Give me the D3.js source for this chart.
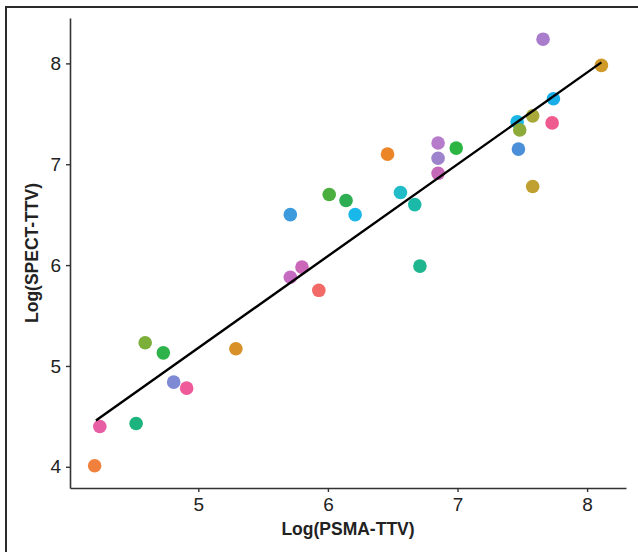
<!DOCTYPE html>
<html>
<head>
<meta charset="utf-8">
<script src="https://cdn.jsdelivr.net/npm/d3@7"></script>
<style>
  html, body { margin: 0; padding: 0; background: #fff; }
  svg { display: block; font-family: "Liberation Sans", Arial, sans-serif; }
</style>
</head>
<body>
<div id="chart"></div>
<script>
var chart_width = 638,
    chart_height = 552;

// Data
var psma = [4.20, 4.24, 4.52, 4.59, 4.73, 4.81, 4.91, 5.29, 5.71, 5.80, 5.71,
            5.93, 6.01, 6.14, 6.21, 6.46, 6.56, 6.67, 6.71, 6.85, 6.85, 6.85,
            6.99, 7.46, 7.48, 7.47, 7.58, 7.58, 7.66, 7.74, 7.73, 8.11];
var spect = [4.01, 4.40, 4.43, 5.23, 5.13, 4.84, 4.78, 5.17, 5.88, 5.98, 6.50,
             5.75, 6.70, 6.64, 6.50, 7.10, 6.72, 6.60, 5.99, 7.21, 7.06, 6.91,
             7.16, 7.42, 7.34, 7.15, 7.48, 6.78, 8.24, 7.65, 7.41, 7.98];
var pointColors = ['#F0803C', '#E85EA4', '#1DB37F', '#7CAE3A', '#2DB34A', '#7E8AD4',
                   '#EE5A9A', '#D89028', '#C66BC2', '#CC66B8', '#3C9BDD', '#F26A68',
                   '#4AAF3E', '#2EAD52', '#1AB8EA', '#EC8428', '#22BCC8', '#1BBAA8',
                   '#1FB58E', '#B67BCB', '#9C83CB', '#C468B7', '#2DB544', '#1BB5E6',
                   '#8CAB3A', '#4A8FD8', '#A9A93A', '#BFA030', '#A97DCB', '#1AAEE8',
                   '#EF5B8E', '#D09A2A'];
var fitX = [4.21, 8.11];
var fitY = [4.46, 8.01];
var xTicks = [5, 6, 7, 8];
var yTicks = [4, 5, 6, 7, 8];

var points = psma.map(function (d, i) {
    return { x: d, y: spect[i], c: pointColors[i] };
});

// Scales
var x = d3.scaleLinear().domain([4.01, 8.30]).range([70, 626]);
var y = d3.scaleLinear().domain([3.79, 8.45]).range([488, 18]);

var svg = d3.select("#chart")
    .append("svg")
    .attr("width", chart_width)
    .attr("height", chart_height);

// outer frame (left and top edges only)
svg.append('path')
    .attr('d', 'M6,552 L6,7 L638,7')
    .attr('fill', 'none')
    .attr('stroke', '#2a2a2a')
    .attr('stroke-width', 2);

// Axes
var xAxis = svg.append('g')
    .attr('transform', 'translate(0,488)')
    .call(d3.axisBottom(x).tickValues(xTicks).tickFormat(d3.format('d'))
        .tickSize(4).tickPadding(6).tickSizeOuter(0));

var yAxis = svg.append('g')
    .attr('transform', 'translate(70,0)')
    .call(d3.axisLeft(y).tickValues(yTicks).tickFormat(d3.format('d'))
        .tickSize(4).tickPadding(5).tickSizeOuter(0));

[xAxis, yAxis].forEach(function (a) {
    a.select('.domain').attr('stroke', '#333').attr('stroke-width', 1.6);
    a.selectAll('.tick line').attr('stroke', '#333').attr('stroke-width', 1.4);
    a.selectAll('.tick text')
        .attr('fill', '#222')
        .style('font-size', '19px')
        .style('font-family', '"Liberation Sans", Arial, sans-serif');
});

// Points
svg.append('g')
    .selectAll('circle')
    .data(points)
    .enter()
    .append('circle')
    .attr('cx', function (d) { return x(d.x); })
    .attr('cy', function (d) { return y(d.y); })
    .attr('r', 6.8)
    .attr('fill', function (d) { return d.c; });

// Fit line
var line = d3.line()
    .x(function (d) { return x(d[0]); })
    .y(function (d) { return y(d[1]); });

svg.append('path')
    .datum(fitX.map(function (d, i) { return [d, fitY[i]]; }))
    .attr('d', line)
    .attr('fill', 'none')
    .attr('stroke', '#000')
    .attr('stroke-width', 2.4);

// Axis titles
svg.append('text')
    .attr('x', 348)
    .attr('y', 535)
    .attr('text-anchor', 'middle')
    .style('font-size', '17.5px')
    .style('font-weight', 'bold')
    .attr('fill', '#222')
    .text('Log(PSMA-TTV)');

svg.append('text')
    .attr('transform', 'translate(38,253) rotate(-90)')
    .attr('text-anchor', 'middle')
    .style('font-size', '17.5px')
    .style('font-weight', 'bold')
    .attr('fill', '#222')
    .text('Log(SPECT-TTV)');
</script>
</body>
</html>
